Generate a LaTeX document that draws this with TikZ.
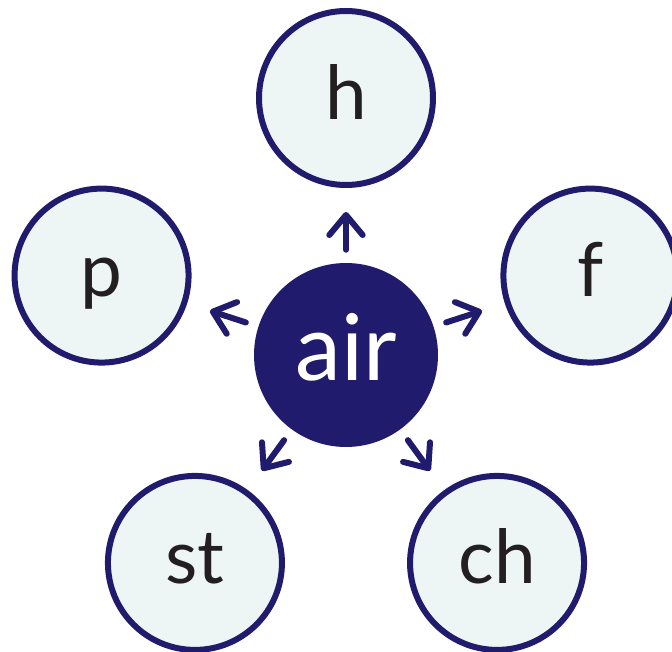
\documentclass[tikz,border=0pt]{standalone}
\usepackage{fontspec}
\setmainfont{Lato}
\usetikzlibrary{arrows.meta}
\definecolor{navy}{HTML}{201B6C}
\definecolor{mint}{HTML}{EDF6F5}
\definecolor{ink}{HTML}{231F20}
\tikzset{
	sound/.style={circle, draw=navy, line width=4.5pt, fill=mint, minimum size=130.5pt, inner sep=0pt,
		text=ink, text height=40pt, text depth=8.5pt, font=\fontsize{56}{56}\selectfont},
	centre/.style={circle, fill=navy, minimum size=138pt, inner sep=0pt,
		text=white, text height=45pt, text depth=7.5pt, font=\fontsize{69}{69}\selectfont},
	arr/.style={navy, line width=4.5pt, line cap=round, -{Straight Barb[length=15pt,width=25pt,round]},
		shorten <=9.75pt, shorten >=18pt}
}
\begin{document}
\begin{tikzpicture}[x=0.75pt, y=0.75pt]
		\useasboundingbox (-346,-296) rectangle (326,355);
		\node[centre] (air) at (0,0) {air};
		\foreach \a/\s in {90/h, 162/p, 18/f, 234/st, 306/ch}
			\node[sound] (\s) at (\a:257) {\s};
		\foreach \s in {h,p,f,st,ch} \draw[arr] (air) -- (\s);
	\end{tikzpicture}
\end{document}
